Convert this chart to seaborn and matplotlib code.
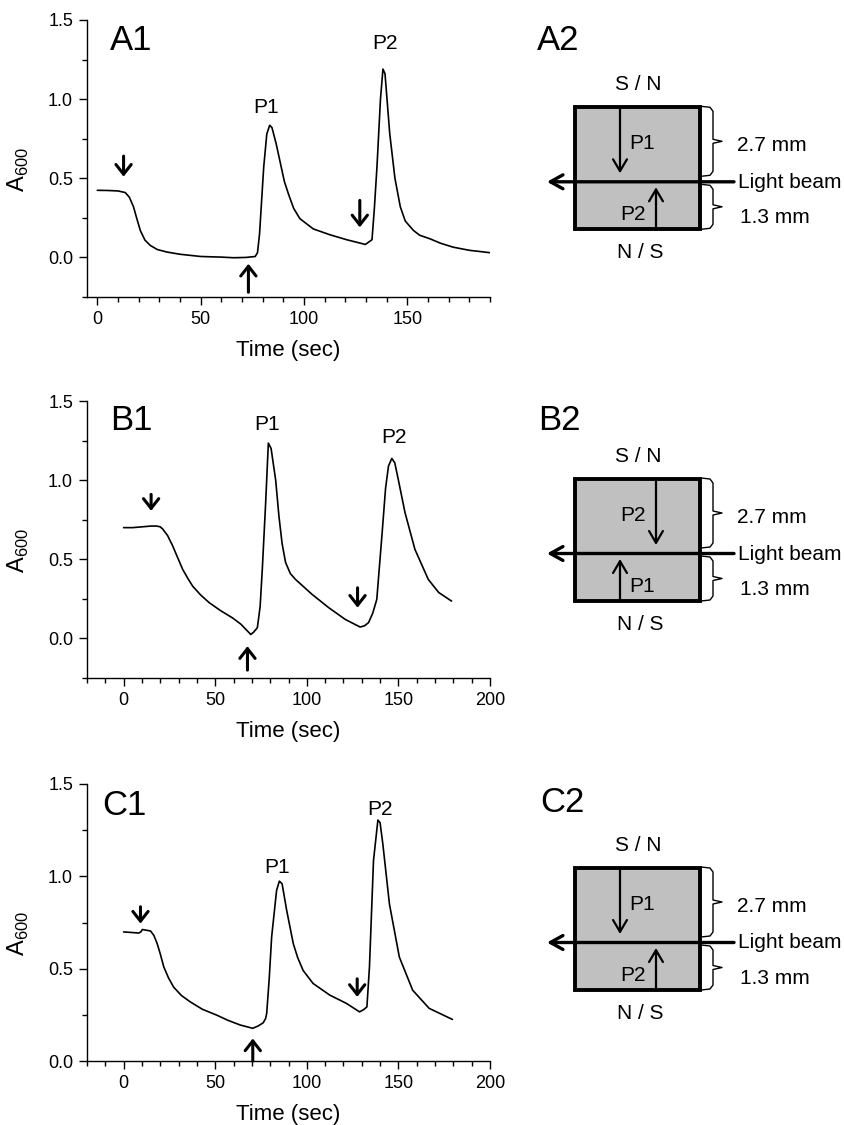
import matplotlib
matplotlib.use('Agg')
import numpy as np
import pandas as pd
import matplotlib.pyplot as plt
import seaborn as sns
from matplotlib.patches import Rectangle
from matplotlib.ticker import MultipleLocator

# traces (time in sec, A600)
a_time = [0, 5, 10, 13.5, 15.5, 17.5, 19, 20.8, 23, 25.6, 29, 33.7, 40, 50, 60, 66, 72, 76.4,
          77.5, 78.5, 80.5, 82, 83.4, 84.5, 86.5, 88.5, 90.5, 92.5, 95, 98, 104.5, 112.6, 120.6,
          129.7, 132.9, 134, 135.3, 137, 138.2, 139.2, 141.5, 144, 146.6, 149, 153, 156, 160.9,
          166, 172.1, 180, 190]
a_abs = [0.424, 0.423, 0.42, 0.41, 0.38, 0.32, 0.25, 0.17, 0.11, 0.076, 0.05, 0.034, 0.02, 0.006,
         0.002, -0.002, 0.0, 0.006, 0.03, 0.15, 0.57, 0.78, 0.835, 0.82, 0.72, 0.6, 0.48, 0.40,
         0.31, 0.245, 0.18, 0.143, 0.112, 0.082, 0.112, 0.3, 0.57, 1.0, 1.19, 1.16, 0.78, 0.5,
         0.32, 0.23, 0.17, 0.14, 0.118, 0.09, 0.065, 0.045, 0.03]

b_time = [0, 5, 10, 15, 18, 20, 21.4, 24, 26.8, 29.5, 32.2, 35, 37.7, 42, 46.7, 53, 59.4, 64,
          69.4, 71, 73, 74.5, 75.7, 77.5, 79, 80.5, 83, 84.8, 86.5, 88.4, 91, 93.8, 102.9, 112,
          121, 129.1, 131.5, 133.7, 136, 138.2, 141, 143, 144.6, 146.4, 148, 150, 153.6, 159,
          166.3, 172, 179]
b_abs = [0.70, 0.70, 0.705, 0.71, 0.71, 0.705, 0.69, 0.65, 0.584, 0.51, 0.437, 0.38, 0.33, 0.275,
         0.226, 0.175, 0.13, 0.09, 0.025, 0.04, 0.068, 0.2, 0.437, 0.85, 1.234, 1.2, 1.0, 0.77,
         0.6, 0.48, 0.41, 0.373, 0.278, 0.194, 0.12, 0.072, 0.08, 0.1, 0.16, 0.247, 0.65, 0.95,
         1.09, 1.137, 1.11, 1.0, 0.795, 0.563, 0.373, 0.29, 0.236]

c_time = [0, 8.3, 9.5, 10.2, 14.7, 16.5, 18.3, 20, 21.9, 24.5, 27.3, 31.5, 36.4, 43, 50.9, 57,
          63.6, 70.5, 73.5, 76.2, 77.5, 78.1, 79.5, 80.8, 83.5, 85, 86.5, 89, 92.6, 95, 98, 103.4,
          112.5, 121.6, 128.8, 131, 132.8, 133.5, 134.2, 136.4, 138.8, 140, 141.5, 145.1, 150.5,
          157.8, 166.8, 179.5]
c_abs = [0.699, 0.693, 0.70, 0.712, 0.704, 0.68, 0.636, 0.58, 0.51, 0.45, 0.40, 0.355, 0.32, 0.28,
         0.248, 0.22, 0.195, 0.177, 0.19, 0.207, 0.23, 0.258, 0.45, 0.672, 0.924, 0.974, 0.96,
         0.816, 0.636, 0.56, 0.49, 0.42, 0.357, 0.312, 0.266, 0.278, 0.293, 0.40, 0.51, 1.085,
         1.305, 1.29, 1.175, 0.85, 0.563, 0.383, 0.285, 0.225]

# arrows on the traces: (time, tail, tip)
a_arrows = [(12.7, 0.64, 0.51), (73.1, -0.22, -0.04), (127, 0.36, 0.19)]
b_arrows = [(15, 0.91, 0.806), (67.6, -0.2, -0.049), (127.7, 0.32, 0.194)]
c_arrows = [(9.2, 0.835, 0.744), (70.5, 0.0, 0.122), (127.5, 0.445, 0.347)]

# peak labels: (text, time, A600)
a_peaks = [('P1', 81.5, 0.95), ('P2', 139.3, 1.353)]
b_peaks = [('P1', 78.4, 1.354), ('P2', 147.8, 1.27)]
c_peaks = [('P1', 83.5, 1.049), ('P2', 140, 1.364)]

# which peak comes from the top / bottom of the cell
cell_order = [('P1', 'P2'), ('P2', 'P1'), ('P1', 'P2')]
panel_names = [('A1', 'A2'), ('B1', 'B2'), ('C1', 'C2')]

sns.set_style('ticks', {'axes.edgecolor': 'black', 'xtick.color': 'black', 'ytick.color': 'black',
                        'text.color': 'black', 'axes.labelcolor': 'black'})
plt.rcParams['font.family'] = ['Liberation Sans', 'DejaVu Sans']

W, H = 844, 1125
fig = plt.figure(figsize=(W / 100, H / 100), dpi=100)

rows = [
    (a_time, a_abs, a_arrows, a_peaks, (-5, 190), (-0.25, 1.5), 297, [0, 50, 100, 150]),
    (b_time, b_abs, b_arrows, b_peaks, (-20, 200), (-0.25, 1.5), 678, [0, 50, 100, 150, 200]),
    (c_time, c_abs, c_arrows, c_peaks, (-20, 200), (0, 1.5), 1061, [0, 50, 100, 150, 200]),
]

for t, a, arrows, peaks, xlim, ylim, bottom_px, xticks in rows:
    ax = fig.add_axes([87 / W, 1 - bottom_px / H, 403 / W, 277 / H])
    df = pd.DataFrame({'Time (sec)': t, 'A600': a})
    sns.lineplot(data=df, x='Time (sec)', y='A600', ax=ax, color='black', lw=1.2)
    ax.set_xlim(*xlim)
    ax.set_ylim(*ylim)
    ax.set_xticks(xticks)
    ax.xaxis.set_minor_locator(MultipleLocator(10))
    ax.set_yticks([0.0, 0.5, 1.0, 1.5])
    ax.set_yticklabels(['0.0', '0.5', '1.0', '1.5'])
    ax.yaxis.set_minor_locator(MultipleLocator(0.25))
    ax.tick_params(which='major', length=6, width=1, labelsize=13, pad=4)
    ax.tick_params(which='minor', length=3.5, width=1)
    sns.despine(ax=ax)
    for s in ['left', 'bottom']:
        ax.spines[s].set_linewidth(1)
    ax.set_xlabel('Time (sec)', fontsize=16)
    ax.set_ylabel(r'A$_{\mathregular{600}}$', fontsize=17)
    ax.xaxis.set_label_coords(0.5, -0.155)
    ax.yaxis.set_label_coords(-0.14, 0.46)
    for tx, tail, tip in arrows:
        ax.annotate('', xy=(tx, tip), xytext=(tx, tail), annotation_clip=False,
                    arrowprops=dict(arrowstyle='->,head_length=0.7,head_width=0.55', lw=2.2,
                                    color='black', shrinkA=0, shrinkB=0))
    for name, tx, ty in peaks:
        ax.text(tx, ty, name, fontsize=15, ha='center', va='center')

# overlay in pixel coordinates for the panel letters and the cell sketches
ov = fig.add_axes([0, 0, 1, 1])
ov.set_xlim(0, W)
ov.set_ylim(H, 0)
ov.axis('off')

label_pos = [((110, 50), (537, 50)), ((110, 430), (538, 430)), ((102, 815), (540, 812))]
box_tops = [107.3, 479, 868]


def brace(y_top, y_bot):
    mid = (y_top + y_bot) / 2
    xs = [701, 710, 713, 713, 722, 713, 713, 710, 701]
    ys = [y_top, y_top + 1, y_top + 5, mid - 2, mid, mid + 2, y_bot - 5, y_bot - 1, y_bot]
    ov.plot(xs, ys, color='black', lw=1, solid_joinstyle='round')


def peak_arrow(name, y_from, y_to, label_base):
    x = 620 if name == 'P1' else 656
    ov.annotate('', xy=(x, y_to), xytext=(x, y_from),
                arrowprops=dict(arrowstyle='->,head_length=0.85,head_width=0.5', lw=1.6,
                                color='black', shrinkA=0, shrinkB=0))
    if name == 'P1':
        ov.text(x + 9, label_base, name, fontsize=15, ha='left', va='baseline')
    else:
        ov.text(x - 10, label_base, name, fontsize=15, ha='right', va='baseline')


for (n1, n2), (p1, p2), y0, (top_pk, bot_pk) in zip(panel_names, label_pos, box_tops, cell_order):
    ov.text(p1[0], p1[1], n1, fontsize=25, ha='left', va='baseline')
    ov.text(p2[0], p2[1], n2, fontsize=25, ha='left', va='baseline')
    beam = y0 + 74.5
    ov.add_patch(Rectangle((575, y0), 125, 122, facecolor='#c0c0c0', edgecolor='black', lw=2.8))
    ov.annotate('', xy=(547, beam), xytext=(734, beam),
                arrowprops=dict(arrowstyle='->,head_length=0.9,head_width=0.5', lw=2.4,
                                color='black', shrinkA=0, shrinkB=0))
    peak_arrow(top_pk, y0 + 1, y0 + 66, y0 + 42)
    peak_arrow(bot_pk, y0 + 121, y0 + 80, y0 + 113)
    brace(y0 - 1, y0 + 69)
    brace(y0 + 77, y0 + 122)
    ov.text(638, y0 - 17, 'S / N', fontsize=15, ha='center', va='baseline')
    ov.text(640, y0 + 151, 'N / S', fontsize=15, ha='center', va='baseline')
    ov.text(737, y0 + 44, '2.7 mm', fontsize=15, ha='left', va='baseline')
    ov.text(740, y0 + 116, '1.3 mm', fontsize=15, ha='left', va='baseline')
    ov.text(738, y0 + 80.5, 'Light beam', fontsize=15, ha='left', va='baseline')

fig.savefig('out.png', dpi=100)
